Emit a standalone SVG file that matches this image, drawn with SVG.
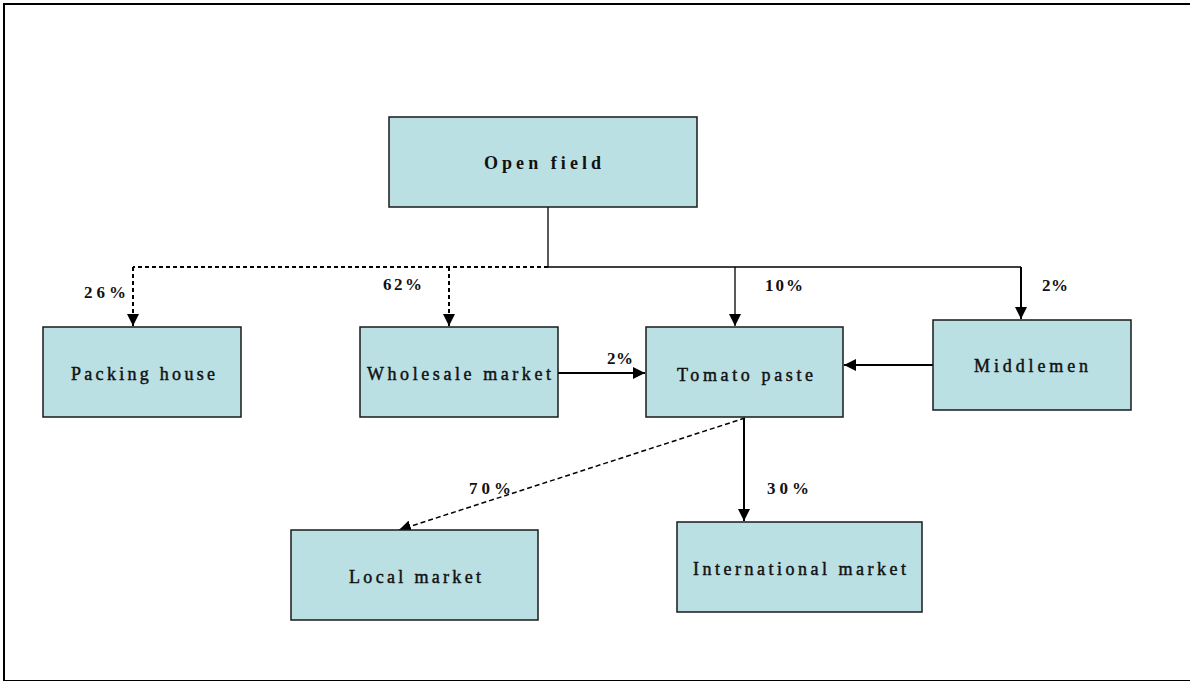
<svg xmlns="http://www.w3.org/2000/svg" width="1190" height="682" viewBox="0 0 1190 682">
<style>
.box{fill:#bbe0e3;stroke:#1a1a1a;stroke-width:1.5}
.lbl{font-family:"Liberation Serif",serif;font-size:18px;fill:#111;stroke:#111;stroke-width:0.45}
.title{font-family:"Liberation Serif",serif;font-size:18px;font-weight:bold;fill:#111}
.pct{font-family:"Liberation Serif",serif;font-size:17px;font-weight:bold;fill:#111}
.ln{fill:none;stroke:#000;stroke-width:1.3}
.thick{fill:none;stroke:#000;stroke-width:2}
.dash{fill:none;stroke:#000;stroke-width:2;stroke-dasharray:4 3}
.dashthin{fill:none;stroke:#000;stroke-width:1.5;stroke-dasharray:5 3}
</style>
<defs>
<marker id="ah" markerUnits="userSpaceOnUse" markerWidth="12" markerHeight="12" refX="10" refY="5" orient="auto" viewBox="0 0 10 10">
<path d="M0,0 L10,5 L0,10 Z" fill="#000"/>
</marker>
</defs>
<rect width="1190" height="682" fill="#fff"/>
<g id="frame">
<line x1="3" y1="4" x2="1190" y2="4" stroke="#000" stroke-width="2"/>
<line x1="4" y1="3" x2="4" y2="681" stroke="#000" stroke-width="2"/>
<line x1="3" y1="680.5" x2="1190" y2="680.5" stroke="#000" stroke-width="1"/>
</g>
<g id="connectors">
<path class="ln" d="M548,207 V267 H1021"/>
<path class="dash" d="M548,267 H133"/>
<path class="dash" d="M133,267 V326" marker-end="url(#ah)"/>
<path class="dash" d="M449,267 V326" marker-end="url(#ah)"/>
<path class="ln" d="M735,267 V326" marker-end="url(#ah)"/>
<path class="thick" d="M1021,267 V319" marker-end="url(#ah)"/>
<path class="thick" d="M558,373 H645" marker-end="url(#ah)"/>
<path class="thick" d="M933,365 H844" marker-end="url(#ah)"/>
<path class="dashthin" d="M745,418 L399,530" marker-end="url(#ah)"/>
<path class="thick" d="M744,418 V521" marker-end="url(#ah)"/>
</g>
<g id="open-field"><rect class="box" x="389" y="117" width="308" height="90"/><text class="title" x="484" y="169" textLength="117" lengthAdjust="spacing">Open field</text></g>
<g id="packing-house"><rect class="box" x="43" y="327" width="198" height="90"/><text class="lbl" x="71" y="380" textLength="144" lengthAdjust="spacing">Packing house</text></g>
<g id="wholesale-market"><rect class="box" x="360" y="327" width="198" height="90"/><text class="lbl" x="367" y="380" textLength="184" lengthAdjust="spacing">Wholesale market</text></g>
<g id="tomato-paste"><rect class="box" x="646" y="327" width="197" height="90"/><text class="lbl" x="677" y="381" textLength="136" lengthAdjust="spacing">Tomato paste</text></g>
<g id="middlemen"><rect class="box" x="933" y="320" width="198" height="90"/><text class="lbl" x="974" y="372" textLength="114" lengthAdjust="spacing">Middlemen</text></g>
<g id="local-market"><rect class="box" x="291" y="530" width="247" height="90"/><text class="lbl" x="349" y="583" textLength="132" lengthAdjust="spacing">Local market</text></g>
<g id="international-market"><rect class="box" x="677" y="522" width="245" height="90"/><text class="lbl" x="693" y="575" textLength="213" lengthAdjust="spacing">International market</text></g>
<g id="labels">
<text class="pct" x="84" y="298" textLength="42" lengthAdjust="spacing">26%</text>
<text class="pct" x="383" y="290" textLength="39" lengthAdjust="spacing">62%</text>
<text class="pct" x="765" y="291" textLength="38" lengthAdjust="spacing">10%</text>
<text class="pct" x="1042" y="291" textLength="26" lengthAdjust="spacing">2%</text>
<text class="pct" x="607" y="364" textLength="26" lengthAdjust="spacing">2%</text>
<text class="pct" x="469" y="494" textLength="42" lengthAdjust="spacing">70%</text>
<text class="pct" x="767" y="494" textLength="42" lengthAdjust="spacing">30%</text>
</g>
</svg>
